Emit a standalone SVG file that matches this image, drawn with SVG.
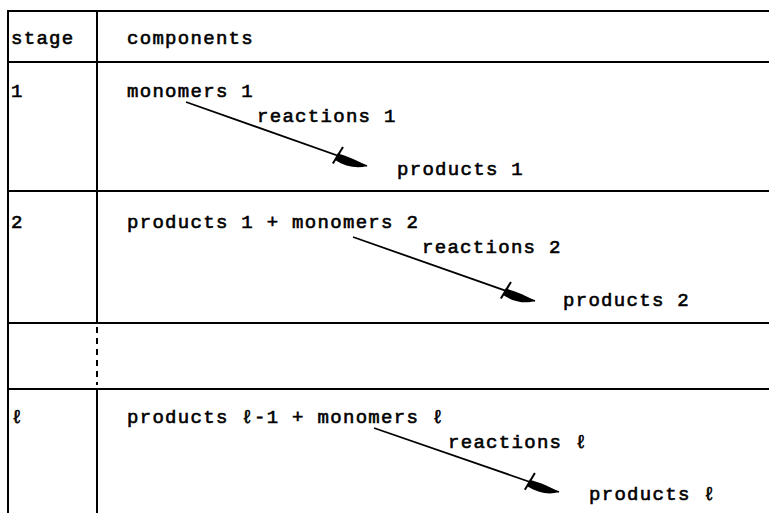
<svg xmlns="http://www.w3.org/2000/svg" width="769" height="513" viewBox="0 0 769 513">
  <style>
    .rule { stroke: #000; stroke-width: 2; fill: none; }
    .dash { stroke: #000; stroke-width: 2; fill: none; stroke-dasharray: 6 5; }
    .t { font-family: "Liberation Mono", "DejaVu Sans Mono", monospace; font-size: 19px; letter-spacing: 1.3px; fill: #000; stroke: #000; stroke-width: 0.6; }
    .arrow { stroke: #000; stroke-width: 1.8; fill: none; marker-end: url(#dart); }
  </style>
  <defs>
    <marker id="dart" markerUnits="userSpaceOnUse" viewBox="-4 -12 40 24" refX="32" refY="0" markerWidth="40" markerHeight="24" orient="auto" overflow="visible">
      <path d="M0,-2 L0,5 C12,8 24,6 32,0 C22,-2 10,-3 0,-2 Z" fill="#000"/>
      <path d="M3,-10 L-1,9" stroke="#000" stroke-width="2" fill="none"/>
    </marker>
  </defs>

  <rect width="769" height="513" fill="#fff"/>

  <!-- table frame -->
  <g id="table">
    <line class="rule" x1="8" y1="11" x2="769" y2="11"/>
    <line class="rule" x1="8" y1="62" x2="769" y2="62"/>
    <line class="rule" x1="8" y1="191" x2="769" y2="191"/>
    <line class="rule" x1="8" y1="323" x2="769" y2="323"/>
    <line class="rule" x1="8" y1="389" x2="769" y2="389"/>
    <line class="rule" x1="8" y1="10" x2="8" y2="513"/>
    <line class="rule" x1="97" y1="10" x2="97" y2="323"/>
    <line class="dash" x1="97" y1="327" x2="97" y2="385"/>
    <line class="rule" x1="97" y1="389" x2="97" y2="513"/>
  </g>

  <!-- header -->
  <g id="header">
    <text class="t" x="11" y="44">stage</text>
    <text class="t" x="127" y="44">components</text>
  </g>

  <!-- stage 1 -->
  <g id="stage-1">
    <text class="t" x="11" y="97">1</text>
    <text class="t" x="127" y="97">monomers 1</text>
    <text class="t" x="257" y="122">reactions 1</text>
    <text class="t" x="397" y="175">products 1</text>
  </g>

  <!-- stage 2 -->
  <g id="stage-2">
    <text class="t" x="11" y="228">2</text>
    <text class="t" x="127" y="228">products 1 + monomers 2</text>
    <text class="t" x="422" y="253">reactions 2</text>
    <text class="t" x="563" y="306">products 2</text>
  </g>

  <!-- stage l -->
  <g id="stage-l">
    <text class="t" x="11" y="423">ℓ</text>
    <text class="t" x="127" y="423">products ℓ-1 + monomers ℓ</text>
    <text class="t" x="448" y="448">reactions ℓ</text>
    <text class="t" x="589" y="500">products ℓ</text>
  </g>

  <!-- reaction arrows -->
  <g id="connectors">
    <line class="arrow" x1="186" y1="102" x2="367" y2="166"/>
    <line class="arrow" x1="353" y1="237" x2="535" y2="301"/>
    <line class="arrow" x1="374" y1="428" x2="559" y2="492"/>
  </g>
</svg>
